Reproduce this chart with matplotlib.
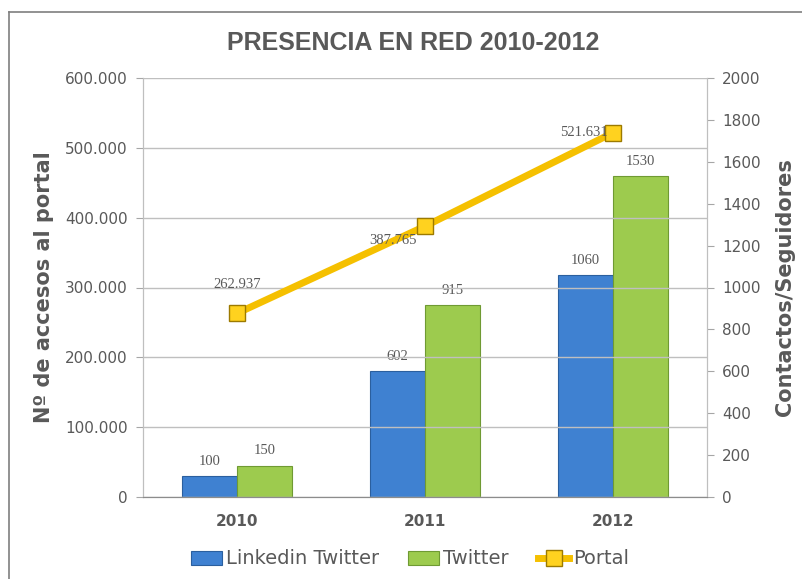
import matplotlib.pyplot as plt
from matplotlib.lines import Line2D
from matplotlib.ticker import FuncFormatter, MultipleLocator

years = ['2010', '2011', '2012']
linkedin = [100, 602, 1060]
twitter = [150, 915, 1530]
portal = [262937, 387765, 521631]
portal_labels = ['262.937', '387.765', '521.631']

gray_txt = '#595959'
axis_gray = '#A6A6A6'

fig = plt.figure(figsize=(8.03, 5.79), dpi=100)
ax = fig.add_axes([143 / 803, 1 - 497 / 579, 564 / 803, 419 / 579])
ax2 = ax.twinx()

# frame round the chart
fig.add_artist(Line2D([9 / 803, 9 / 803], [0, 1 - 12 / 579], transform=fig.transFigure,
                      color='#7F7F7F', lw=1.2))
fig.add_artist(Line2D([9 / 803, 1], [1 - 12 / 579, 1 - 12 / 579], transform=fig.transFigure,
                      color='#7F7F7F', lw=1.2))

x = list(range(len(years)))
w = 0.29
ax2.bar([i - w / 2 for i in x], linkedin, w, color='#3F81D1', edgecolor='#2B5F9E', lw=0.8,
        label='Linkedin Twitter', zorder=2)
ax2.bar([i + w / 2 for i in x], twitter, w, color='#9DCB4E', edgecolor='#6F9A33', lw=0.8,
        label='Twitter', zorder=2)
for i in x:
    ax2.annotate(str(linkedin[i]), (i - w / 2, linkedin[i]), xytext=(0, 6), textcoords='offset points',
                 ha='center', va='bottom', fontsize=10.5, color=gray_txt, family='Liberation Serif')
    ax2.annotate(str(twitter[i]), (i + w / 2, twitter[i]), xytext=(0, 6), textcoords='offset points',
                 ha='center', va='bottom', fontsize=10.5, color=gray_txt, family='Liberation Serif')

# line on the left axis, drawn above the bars
ax.set_zorder(ax2.get_zorder() + 1)
ax.patch.set_visible(False)
ax.plot(x, portal, color='#F5C000', lw=5, marker='s', markersize=12,
        markerfacecolor='#FFD21F', markeredgecolor='#9C7A00', markeredgewidth=1, label='Portal', zorder=3)
offsets = [(0, 16, 'center', 'bottom'), (-6, -10, 'right', 'center'), (-4, 0, 'right', 'center')]
for i, (dx, dy, ha, va) in enumerate(offsets):
    ax.annotate(portal_labels[i], (x[i], portal[i]), xytext=(dx, dy), textcoords='offset points',
                ha=ha, va=va, fontsize=10.5, color=gray_txt, family='Liberation Serif')

ax.set_xlim(-0.5, 2.5)
ax.set_ylim(0, 600000)
ax2.set_ylim(0, 2000)
ax.yaxis.set_major_locator(MultipleLocator(100000))
ax2.yaxis.set_major_locator(MultipleLocator(200))
ax.yaxis.set_major_formatter(FuncFormatter(lambda v, p: f'{int(v):,}'.replace(',', '.')))
ax.grid(axis='y', color='#BFBFBF', lw=1)
ax.set_axisbelow(True)

ax.set_xticks(x)
ax.set_xticklabels(years, fontsize=11, fontweight='bold', color=gray_txt)
ax.tick_params(axis='x', length=0, pad=12)
ax.tick_params(axis='y', colors=axis_gray, labelcolor=gray_txt, labelsize=11, length=5, pad=6)
ax2.tick_params(axis='y', colors=axis_gray, labelcolor=gray_txt, labelsize=11, length=5, pad=6)
for a in (ax, ax2):
    a.spines['top'].set_visible(False)
    a.spines['left'].set_color('#BFBFBF')
    a.spines['right'].set_color('#BFBFBF')
    a.spines['bottom'].set_color('#8C8C8C')

ax.set_ylabel('Nº de accesos al portal', fontsize=15, fontweight='bold', color=gray_txt, labelpad=8)
ax2.set_ylabel('Contactos/Seguidores', fontsize=15, fontweight='bold', color=gray_txt, labelpad=10)

fig.text(413 / 803, 1 - 43 / 579, 'PRESENCIA EN RED 2010-2012', ha='center', va='center',
         fontsize=18, fontweight='bold', color=gray_txt, family='Liberation Sans')

h1, l1 = ax2.get_legend_handles_labels()
h2, l2 = ax.get_legend_handles_labels()
fig.legend(h1 + h2, l1 + l2, loc='center', bbox_to_anchor=(410 / 803, 1 - 559 / 579), ncol=3,
           frameon=False, fontsize=14, handlelength=1.6, handletextpad=0.2, columnspacing=1.5,
           labelcolor=gray_txt)

fig.savefig('out.png', dpi=100)
